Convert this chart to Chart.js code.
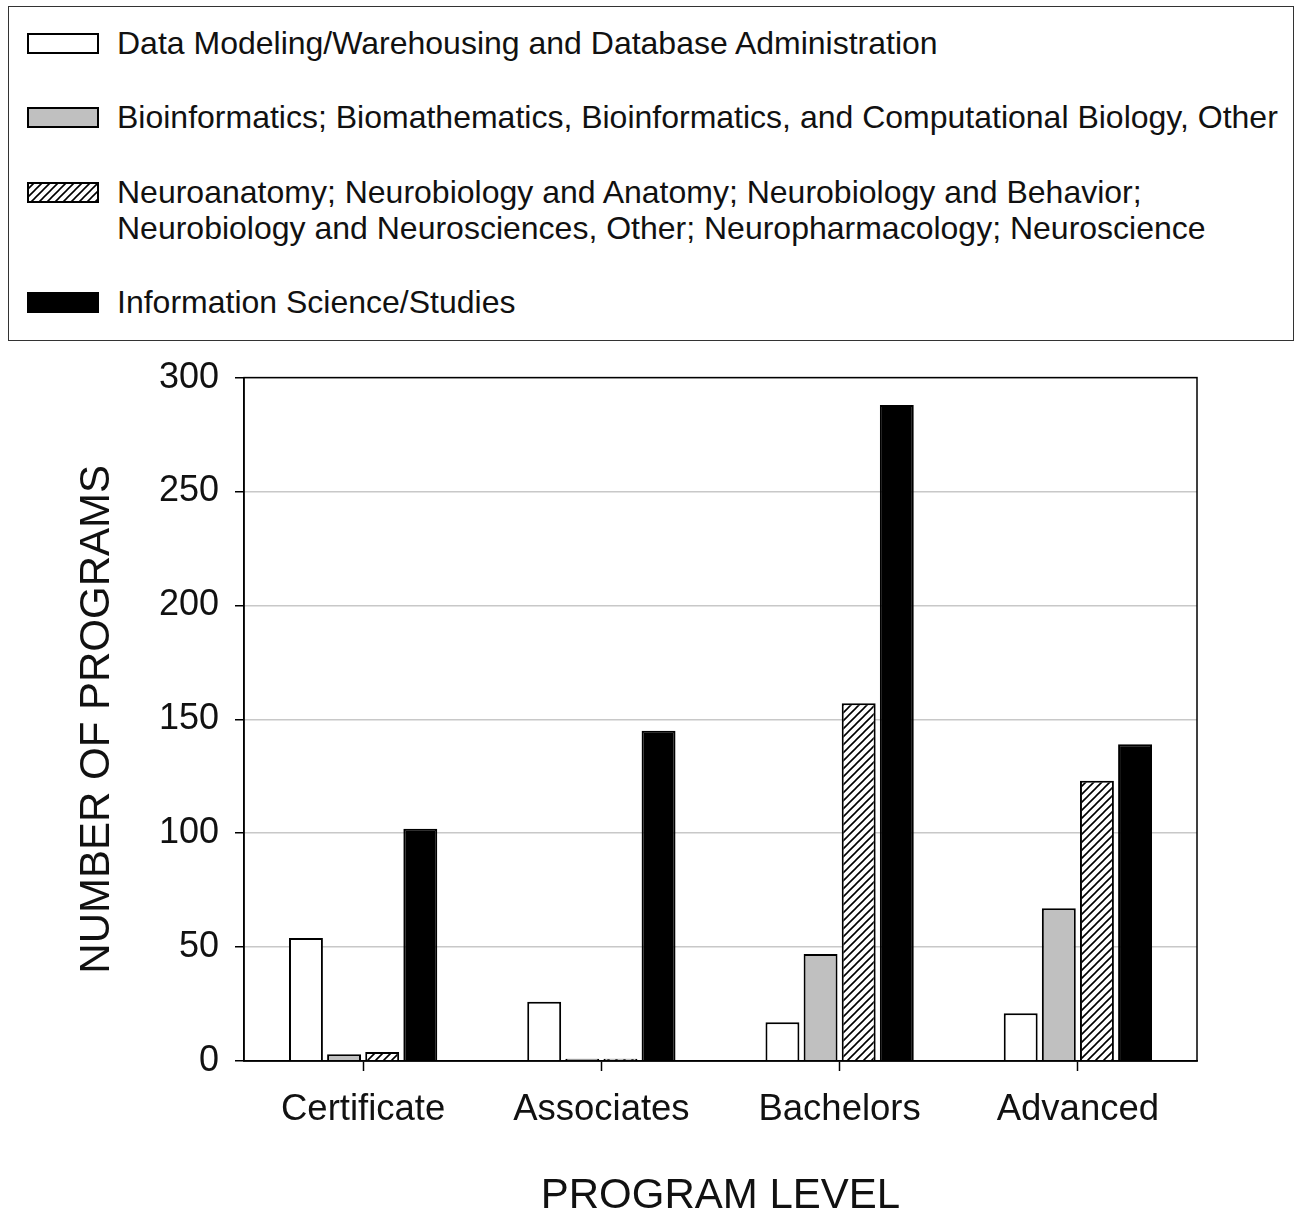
<!DOCTYPE html>
<html>
<head>
<meta charset="utf-8">
<script src="https://cdn.jsdelivr.net/npm/chart.js@4.4.1/dist/chart.umd.min.js"></script>
<style>
body { margin: 0; background: #fff; font-family: "Liberation Sans", Arial, sans-serif; }
#legend { position: absolute; left: 8px; top: 6px; width: 1286px; height: 335px; border: 1.5px solid #333; box-sizing: border-box; }
.swatch { position: absolute; left: 18px; }
.label { position: absolute; left: 108px; font-size: 32px; line-height: 36px; color: #111; white-space: nowrap; }
#wrap { position: absolute; left: 0; top: 340px; width: 1300px; height: 882px; }
</style>
</head>
<body>
<div id="legend"></div>
<div id="wrap"><canvas id="chart"></canvas></div>
<script>
// Data
let categories = ['Certificate', 'Associates', 'Bachelors', 'Advanced']
let seriesNames = [
  ['Data Modeling/Warehousing and Database Administration'],
  ['Bioinformatics; Biomathematics, Bioinformatics, and Computational Biology, Other'],
  ['Neuroanatomy; Neurobiology and Anatomy; Neurobiology and Behavior;', 'Neurobiology and Neurosciences, Other; Neuropharmacology; Neuroscience'],
  ['Information Science/Studies']
]
let dataModeling = [54, 26, 17, 21]
let bioinformatics = [3, 1, 47, 67]
let neuroscience = [4, 1, 157, 123]
let informationScience = [102, 145, 288, 139]
let yTicks = [0, 50, 100, 150, 200, 250, 300]

// diagonal hatch pattern for the neuroscience series
function makeHatch() {
  let s = 8
  let c = document.createElement('canvas')
  c.width = s
  c.height = s
  let g = c.getContext('2d')
  g.fillStyle = '#fff'
  g.fillRect(0, 0, s, s)
  g.strokeStyle = '#000'
  g.lineWidth = 1.6
  g.beginPath()
  g.moveTo(0, s); g.lineTo(s, 0)
  g.moveTo(-1, 1); g.lineTo(1, -1)
  g.moveTo(s - 1, s + 1); g.lineTo(s + 1, s - 1)
  g.stroke()
  return g.createPattern(c, 'repeat')
}
let hatch = makeHatch()

let fills = ['#ffffff', '#c0c0c0', hatch, '#000000']
let seriesValues = [dataModeling, bioinformatics, neuroscience, informationScience]

// HTML legend, swatches painted with the same fills
let legend = document.querySelector('#legend')
let rowTops = [18, 92, 167, 277]
seriesNames.forEach(function (lines, i) {
  let sw = document.createElement('canvas')
  sw.width = 72
  sw.height = 21
  sw.className = 'swatch'
  sw.style.top = (rowTops[i] + 8) + 'px'
  let g = sw.getContext('2d')
  g.fillStyle = fills[i]
  g.fillRect(0, 0, 72, 21)
  g.strokeStyle = '#000'
  g.lineWidth = 2
  g.strokeRect(1, 1, 70, 19)
  legend.appendChild(sw)
  let lab = document.createElement('div')
  lab.className = 'label'
  lab.style.top = rowTops[i] + 'px'
  lab.innerHTML = lines.join('<br>')
  legend.appendChild(lab)
})

let frame = {
  id: 'frame',
  afterDraw(chart) {
    let a = chart.chartArea
    let ctx = chart.ctx
    ctx.save()
    ctx.strokeStyle = '#000'
    ctx.lineWidth = 1.5
    ctx.strokeRect(a.left, a.top, a.right - a.left, a.bottom - a.top)
    ctx.restore()
  }
}

let ctx = document.querySelector('#chart').getContext('2d')
new Chart(ctx, {
  type: 'bar',
  data: {
    labels: categories,
    datasets: seriesValues.map(function (vals, i) {
      return {
        label: seriesNames[i].join(' '),
        data: vals,
        backgroundColor: fills[i],
        borderColor: '#000',
        borderWidth: 2,
        categoryPercentage: 0.64,
        barPercentage: 0.89
      }
    })
  },
  options: {
    responsive: true,
    maintainAspectRatio: false,
    animation: false,
    layout: { padding: { left: 0, right: 103, top: 37, bottom: 0 } },
    plugins: { legend: { display: false }, tooltip: { enabled: false } },
    scales: {
      x: {
        afterFit(scale) { scale.height = 161 },
        grid: { drawOnChartArea: false, offset: false, tickLength: 10, tickColor: '#000', tickWidth: 1.5 },
        border: { color: '#000', width: 1.5 },
        ticks: { color: '#111', padding: 17, font: { size: 36.5, family: '"Liberation Sans", Arial, sans-serif' } },
        title: { display: true, text: 'PROGRAM LEVEL', color: '#111', padding: { top: 0, bottom: 0 },
                 font: { size: 42, family: '"Liberation Sans", Arial, sans-serif' } }
      },
      y: {
        min: 0,
        max: 300,
        afterFit(scale) { scale.width = 244 },
        afterBuildTicks(scale) { scale.ticks = yTicks.map(v => ({ value: v })) },
        grid: { color: '#c8c8c8', lineWidth: 1.5, tickLength: 9, tickColor: '#000', tickWidth: 1.5 },
        border: { color: '#000', width: 1.5 },
        ticks: { color: '#111', padding: 16, font: { size: 36, family: '"Liberation Sans", Arial, sans-serif' } },
        title: { display: true, text: 'NUMBER OF PROGRAMS', color: '#111', padding: { top: 72, bottom: 0 },
                 font: { size: 42, family: '"Liberation Sans", Arial, sans-serif' } }
      }
    }
  },
  plugins: [frame]
})
</script>
</body>
</html>
